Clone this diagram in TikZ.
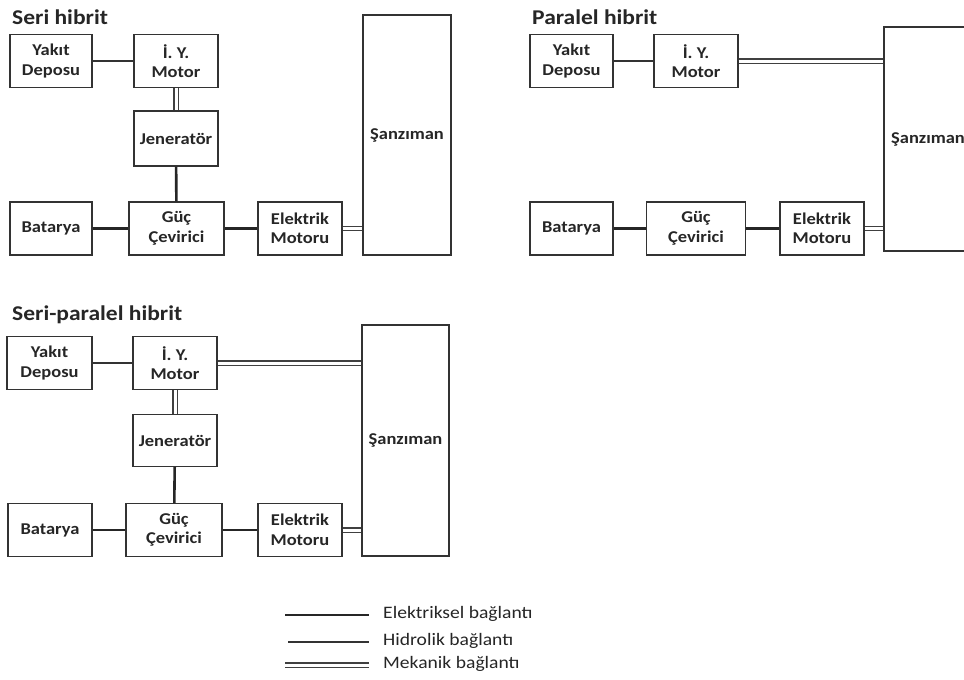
\documentclass[tikz,border=0pt]{standalone}
\usepackage{fontspec}
\setmainfont{Carlito}[FakeStretch=1.12]
\usepackage{xcolor}
\usepackage{tikz}
\usetikzlibrary{positioning,calc}

\begin{document}
\begin{tikzpicture}[x=1pt,y=-1pt,
  box/.style={draw=black!80,line width=1.3pt,align=center,inner sep=0pt,text=black!85,
    minimum height=53pt,minimum width=84pt,font=\fontsize{16.5}{19.5}\selectfont\bfseries},
  ttl/.style={anchor=west,inner sep=0pt,text=black!85,font=\fontsize{21}{24}\selectfont\bfseries},
  leg/.style={anchor=west,inner sep=0pt,text=black!85,font=\fontsize{17.5}{20}\selectfont},
  elek/.style={line width=2.6pt,black!85},
  hidr/.style={line width=1.4pt,black!80},
  mek/.style={double=white,double distance=3pt,line width=1.1pt,black!75}]
\clip (0,0) rectangle (964,680);
\fill[white] (0,0) rectangle (964,680);

\node[ttl] (t1) at (12,17) {Seri hibrit};
\node[box,minimum width=82pt] (yd1) at (51,61) {Yakıt\\Deposu};
\node[box] (iy1) at (176,61) {İ. Y.\\Motor};
\node[box,minimum height=55pt] (jen1) at (176,138.5) {Jeneratör};
\node[box,minimum width=95pt] (guc1) at (176.5,228.5) {Güç\\Çevirici};
\node[box,minimum width=82pt] (bat1) at (51,228.5) {Batarya};
\node[box] (em1) at (300,228.5) {Elektrik\\Motoru};
\node[box,minimum width=88pt,minimum height=240pt] (san1) at (407,135) {Şanzıman};
\draw[hidr] (yd1) -- (iy1);
\draw[mek] (iy1) -- (jen1);
\draw[elek] (jen1) -- (guc1);
\draw[elek] (bat1) -- (guc1);
\draw[elek] (guc1) -- (em1);
\draw[mek] (em1.east) -- (em1.east -| san1.west);

\node[ttl] (t2) at (532,17) {Paralel hibrit};
\node[box,minimum width=83pt] (yd2) at (571.5,61) {Yakıt\\Deposu};
\node[box] (iy2) at (696,61) {İ. Y.\\Motor};
\node[box,minimum width=83pt] (bat2) at (571.5,228.5) {Batarya};
\node[box,minimum width=99pt] (guc2) at (696,228.5) {Güç\\Çevirici};
\node[box] (em2) at (822,228.5) {Elektrik\\Motoru};
\node[box,minimum width=88pt,minimum height=224pt] (san2) at (928,139) {Şanzıman};
\draw[hidr] (yd2) -- (iy2);
\draw[mek] (iy2.east) -- (iy2.east -| san2.west);
\draw[elek] (bat2) -- (guc2);
\draw[elek] (guc2) -- (em2);
\draw[mek] (em2.east) -- (em2.east -| san2.west);

\node[ttl] (t3) at (12,315) {Seri-paralel hibrit};
\node[box,minimum width=85pt] (yd3) at (49.5,363) {Yakıt\\Deposu};
\node[box] (iy3) at (175,363) {İ. Y.\\Motor};
\node[box,minimum height=52pt] (jen3) at (175,440.5) {Jeneratör};
\node[box,minimum width=96pt] (guc3) at (174,530) {Güç\\Çevirici};
\node[box,minimum width=84pt] (bat3) at (50,530) {Batarya};
\node[box] (em3) at (300,530) {Elektrik\\Motoru};
\node[box,minimum width=87pt,minimum height=231pt] (san3) at (405.5,440.5) {Şanzıman};
\draw[hidr] (yd3) -- (iy3);
\draw[mek] (iy3.east) -- (iy3.east -| san3.west);
\draw[mek] (iy3) -- (jen3);
\draw[elek] (jen3) -- (guc3);
\draw[elek] (bat3) -- (guc3);
\draw[elek] (guc3) -- (em3);
\draw[mek] (em3.east) -- (em3.east -| san3.west);

\coordinate (e1) at (285,615);
\coordinate (e2) at (369,615);
\coordinate (h1) at (288,642);
\coordinate (h2) at (369,642);
\coordinate (m1) at (285,665);
\coordinate (m2) at (369,665);
\draw[elek] (e1) -- (e2);
\draw[hidr] (h1) -- (h2);
\draw[mek] (m1) -- (m2);
\node[leg] (le) at (383,614) {Elektriksel bağlantı};
\node[leg] (lh) at (383,641) {Hidrolik bağlantı};
\node[leg] (lm) at (383,664) {Mekanik bağlantı};
\end{tikzpicture}
\end{document}
